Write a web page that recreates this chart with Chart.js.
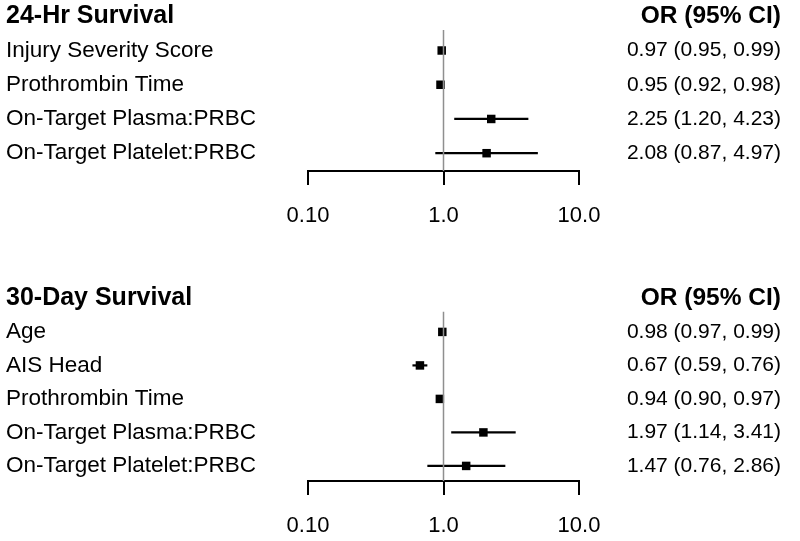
<!DOCTYPE html>
<html>
<head>
<meta charset="utf-8">
<script src="https://cdn.jsdelivr.net/npm/chart.js@4.4.1/dist/chart.umd.min.js"></script>
<style>
  body { margin: 0; background: #fff; }
  canvas { display: block; }
</style>
</head>
<body>
<canvas id="topChart" width="800" height="270"></canvas>
<canvas id="bottomChart" width="800" height="271"></canvas>
<script>
// x axis (log scale)
const xTicks = [0.1, 1, 10];
const xTickLabels = ['0.10', '1.0', '10.0'];

// 24-hr survival
const topTitle = '24-Hr Survival';
const topLabels = ['Injury Severity Score', 'Prothrombin Time', 'On-Target Plasma:PRBC', 'On-Target Platelet:PRBC'];
const topOR = [0.97, 0.95, 2.25, 2.08];
const topLow = [0.95, 0.92, 1.20, 0.87];
const topHigh = [0.99, 0.98, 4.23, 4.97];

// 30-day survival
const botTitle = '30-Day Survival';
const botLabels = ['Age', 'AIS Head', 'Prothrombin Time', 'On-Target Plasma:PRBC', 'On-Target Platelet:PRBC'];
const botOR = [0.98, 0.67, 0.94, 1.97, 1.47];
const botLow = [0.97, 0.59, 0.90, 1.14, 0.76];
const botHigh = [0.99, 0.76, 0.97, 3.41, 2.86];

const header = 'OR (95% CI)';

Chart.defaults.font.family = '"Liberation Sans", Arial, Helvetica, sans-serif';
Chart.defaults.color = '#000';

function forest(id, title, labels, or, low, high, yMin, yMax, padTop, xHeight) {
  const rowNames = [title].concat(labels);
  const orText = [header].concat(or.map((v, i) => v.toFixed(2) + ' (' + low[i].toFixed(2) + ', ' + high[i].toFixed(2) + ')'));

  const datasets = [];
  // reference line at OR = 1
  datasets.push({
    type: 'line',
    data: [{ x: 1, y: 0.4 }, { x: 1, y: yMax }],
    borderColor: '#8f8f8f',
    borderWidth: 1.5,
    pointRadius: 0
  });
  // CI whiskers
  or.forEach((v, i) => {
    datasets.push({
      type: 'line',
      data: [{ x: low[i], y: i + 1 }, { x: high[i], y: i + 1 }],
      borderColor: '#000',
      borderWidth: 2.2,
      pointRadius: 0
    });
  });
  // point estimates
  datasets.push({
    type: 'scatter',
    data: or.map((v, i) => ({ x: v, y: i + 1 })),
    pointStyle: 'rect',
    pointRadius: 6,
    backgroundColor: '#000',
    borderColor: '#000',
    borderWidth: 0
  });

  const rowTicks = (scale) => { scale.ticks = rowNames.map((_, i) => ({ value: i })); };
  const fitY = (w) => (scale) => {
    scale.width = w;
    scale.paddingTop = 0;
    scale.paddingBottom = 0;
  };

  new Chart(document.getElementById(id), {
    data: { datasets: datasets },
    options: {
      responsive: false,
      animation: false,
      devicePixelRatio: 1,
      layout: { padding: { left: 6, right: 19, top: padTop, bottom: 0 } },
      plugins: { legend: { display: false }, tooltip: { enabled: false } },
      scales: {
        x: {
          type: 'logarithmic',
          position: 'bottom',
          min: 0.1,
          max: 10,
          afterBuildTicks: (scale) => { scale.ticks = xTicks.map(v => ({ value: v })); },
          afterFit: (scale) => { scale.height = xHeight; },
          grid: { drawOnChartArea: false, drawTicks: true, tickLength: 14, color: '#000', lineWidth: 2 },
          border: { display: true, color: '#000', width: 2 },
          ticks: {
            font: { size: 22 },
            padding: 18,
            maxRotation: 0,
            autoSkip: false,
            callback: (v, i) => xTickLabels[i]
          }
        },
        y: {
          type: 'linear',
          position: 'left',
          reverse: true,
          min: yMin,
          max: yMax,
          afterBuildTicks: rowTicks,
          afterFit: fitY(302),
          grid: { display: false },
          border: { display: false },
          ticks: {
            crossAlign: 'far',
            autoSkip: false,
            padding: 0,
            font: (ctx) => ctx.index === 0 ? { size: 25, weight: 'bold' } : { size: 22.5 },
            callback: (v) => rowNames[Math.round(v)]
          }
        },
        y2: {
          type: 'linear',
          position: 'right',
          reverse: true,
          min: yMin,
          max: yMax,
          afterBuildTicks: rowTicks,
          afterFit: fitY(202),
          grid: { display: false },
          border: { display: false },
          ticks: {
            crossAlign: 'far',
            autoSkip: false,
            padding: 0,
            font: (ctx) => ctx.index === 0 ? { size: 24.5, weight: 'bold' } : { size: 21 },
            callback: (v) => orText[Math.round(v)]
          }
        }
      }
    }
  });
}

forest('topChart', topTitle, topLabels, topOR, topLow, topHigh, -0.3, 4.52, 0, 99);
forest('bottomChart', botTitle, botLabels, botOR, botLow, botHigh, -0.43, 5.45, 14, 60);
</script>
</body>
</html>
